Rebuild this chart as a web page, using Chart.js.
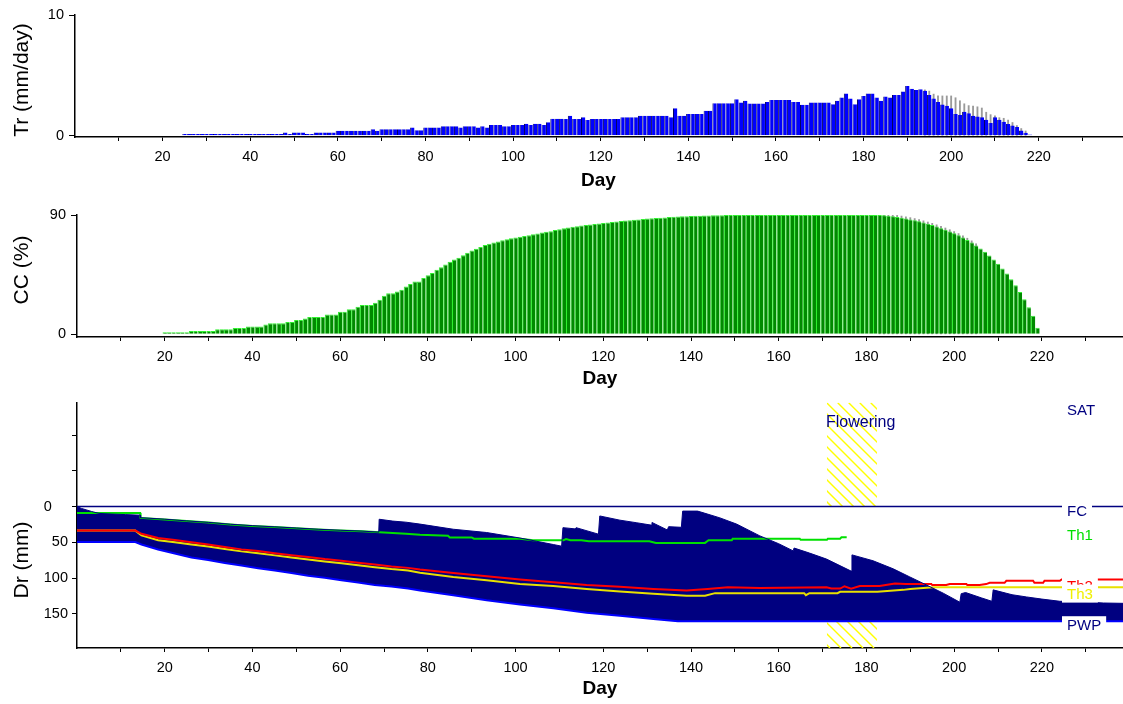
<!DOCTYPE html>
<html lang="en">
<head>
<meta charset="UTF-8">
<title>Tr, CC and Dr by day</title>
<script src="https://cdn.jsdelivr.net/npm/chart.js@4.4.0/dist/chart.umd.min.js"></script>
<style>
  body { margin: 0; background: #fff; }
  .wrap { position: relative; width: 1123px; height: 704px; overflow: hidden; }
  canvas { position: absolute; left: 0; }
</style>
</head>
<body>
<div class="wrap">
  <canvas id="trChart" width="1123" height="200" style="top:0"></canvas>
  <canvas id="ccChart" width="1123" height="200" style="top:200px"></canvas>
  <canvas id="drChart" width="1123" height="314" style="top:390px"></canvas>
</div>
<script>
// ---- data ----
const dayTicks = [10, 20, 30, 40, 50, 60, 70, 80, 90, 100, 110, 120, 130, 140, 150, 160, 170, 180, 190, 200, 210, 220, 230];
const trTicks = [0, 10];
const ccTicks = [0, 90];
const drTicks = [-100, -50, 0, 50, 100, 150];

// transpiration (mm/day), one bar per day from day 25
const trFirstDay = 25;
const trValues = [
  0.15, 0.15, 0.15, 0.15, 0.15, 0.15, 0.15, 0.15, 0.15, 0.15,
  0.15, 0.15, 0.15, 0.15, 0.15, 0.15, 0.15, 0.15, 0.15, 0.15,
  0.15, 0.15, 0.15, 0.27, 0.15, 0.27, 0.27, 0.27, 0.15, 0.15,
  0.27, 0.27, 0.27, 0.27, 0.27, 0.41, 0.41, 0.41, 0.41, 0.41,
  0.41, 0.41, 0.41, 0.55, 0.41, 0.55, 0.55, 0.55, 0.55, 0.55,
  0.55, 0.55, 0.68, 0.45, 0.45, 0.68, 0.68, 0.68, 0.68, 0.8,
  0.8, 0.8, 0.8, 0.68, 0.8, 0.8, 0.8, 0.68, 0.8, 0.68,
  0.9, 0.9, 0.9, 0.8, 0.8, 0.9, 0.9, 0.9, 1.0, 0.9,
  1.0, 1.0, 0.9, 1.12, 1.42, 1.42, 1.42, 1.39, 1.66, 1.39,
  1.39, 1.53, 1.3, 1.39, 1.39, 1.39, 1.39, 1.39, 1.39, 1.39,
  1.53, 1.53, 1.53, 1.53, 1.66, 1.66, 1.66, 1.66, 1.66, 1.66,
  1.66, 1.53, 2.27, 1.66, 1.66, 1.8, 1.8, 1.8, 1.8, 2.07,
  2.07, 2.7, 2.7, 2.7, 2.7, 2.7, 3.03, 2.76, 2.9, 2.68,
  2.68, 2.68, 2.68, 2.8, 2.96, 2.96, 2.96, 2.96, 2.96, 2.8,
  2.8, 2.56, 2.56, 2.76, 2.76, 2.76, 2.76, 2.76, 2.62, 2.9,
  3.17, 3.5, 3.09, 2.62, 3.03, 3.3, 3.5, 3.5, 3.17, 2.9,
  3.25, 3.17, 3.38, 3.38, 3.66, 4.13, 3.9, 3.8, 3.85, 3.72,
  3.38, 3.09, 2.8, 2.6, 2.49, 2.27, 1.8, 1.72, 2.0, 1.86,
  1.66, 1.6, 1.53, 1.33, 1.06, 1.53, 1.33, 1.17, 0.98, 0.85,
  0.72, 0.44, 0.25, 0.1
];
// grey marks above the bars at the end of the season
const trPotFirstDay = 194;
const trPotValues = [
  3.8, 3.7, 3.45, 3.3, 3.3, 3.3, 3.3, 3.15, 2.9, 2.65,
  2.5, 2.45, 2.4, 2.3, 1.95, 1.75, 1.66, 1.5, 1.45, 1.3,
  1.1, 0.85, 0.6, 0.4
];

// canopy cover (%), one bar per day from day 15
const ccFirstDay = 15;
const ccValues = [
  0.5, 0.5, 0.5, 0.5, 0.5, 1.5, 1.5, 1.5, 1.5, 1.5,
  1.5, 2.5, 2.5, 2.5, 2.5, 2.5, 2.5, 3.8, 3.8, 3.8,
  3.8, 4.8, 4.8, 4.8, 5.9, 5.9, 5.9, 5.9, 7.4, 8.4,
  8.4, 8.4, 8.4, 9.4, 9.4, 10.9, 10.9, 12, 13, 13,
  13, 13, 15, 15, 15, 17, 17, 19, 19, 20.8,
  22.1, 22.1, 22.1, 23.9, 26, 29.2, 31, 31, 32.3, 33.6,
  36.1, 37.9, 39.9, 39.9, 42.5, 44.5, 46.3, 48.8, 50.6, 52.6,
  54.7, 56.4, 57.7, 59.7, 61.5, 63.3, 64.6, 65.8, 67.4, 68.4,
  69.2, 70, 71, 71.7, 72.4, 73, 73.6, 74.2, 74.8, 75.5,
  76, 76.8, 77.3, 77.8, 78.6, 79.2, 80.1, 80.6, 81.1, 81.5,
  82, 82.4, 82.8, 83.2, 83.6, 84, 84.4, 84.8, 85.1, 85.5,
  85.8, 86.1, 86.4, 86.7, 87, 87.3, 87.5, 87.8, 88, 88.2,
  88.4, 88.6, 88.8, 89, 89.1, 89.3, 89.4, 89.5, 89.6, 89.7,
  89.8, 89.9, 89.9, 90, 90, 90, 90, 90, 90, 90,
  90, 90, 90, 90, 90, 90, 90, 90, 90, 90,
  90, 90, 90, 90, 90, 90, 90, 90, 90, 90,
  90, 90, 90, 90, 90, 90, 90, 90, 90, 89.8,
  89.5, 89, 88.5, 88, 87.3, 86.7, 86, 85.2, 84.3, 83.4,
  82.4, 81.3, 80.1, 78.9, 77.6, 76.2, 74.7, 73, 71.2, 69.2,
  67, 64.7, 62.2, 59.4, 56.4, 53.2, 49.6, 45.8, 41.6, 37,
  32, 26.5, 20.5, 14, 5
];
const ccPotFirstDay = 183;
const ccPotValues = [
  90.6, 90.6, 90.4, 90.1, 89.7, 89.2, 88.6, 88, 87.3, 86.5,
  85.6, 84.7, 83.7, 82.6, 81.4, 80.2, 78.9, 77.5, 76, 74.3,
  72.5, 70.5, 68.3
];

// root zone depletion (mm) and thresholds, [day, value]
const drPoints = [
  [0, 0], [1, 2.5], [3.3, 6.8], [5, 9.5], [8, 10.5], [11, 11.2], [14.4, 12], [14.5, 15.5],
  [20, 17.6], [25, 20], [30, 22.1], [35, 24.7], [40, 26.7], [45, 28.3], [50, 30], [55, 31.7],
  [60, 33.1], [65, 34.3], [68.8, 35.8], [68.9, 17.7], [72, 20.3], [75, 21.8], [78.2, 24.5],
  [85.8, 31.7], [93.4, 36.3], [101, 44], [108.6, 53.1], [110.5, 55.4], [110.8, 29.5],
  [113.6, 31.2], [113.8, 29.5], [118.9, 38.6], [119.2, 13.1], [123.8, 19], [127.5, 22.5],
  [130.9, 25.9], [131.1, 22.2], [134.6, 32.7], [134.9, 28.1], [137.8, 29], [138.1, 6.3],
  [141.5, 6.3], [143, 9], [146.6, 15.8], [150.4, 24.5], [155.7, 41], [160, 52], [163.3, 62],
  [163.5, 58], [167, 65], [170.9, 73.5], [176.5, 90.3], [176.7, 67.6], [181.5, 75.8],
  [186.1, 87.1], [189.9, 98.5], [193.7, 109.8], [197.5, 121.2], [201.3, 133.9], [201.6, 122],
  [202.6, 120.3], [206.3, 128], [208.6, 132.6], [208.9, 116.6], [213.2, 123.4], [216.5, 126.5],
  [220, 129.5], [224.1, 132.6], [230, 133.5], [234, 135], [239, 135.5]
];
const th1Points = [
  [0, 9], [14.4, 9], [14.5, 15.8], [20, 17.9], [25, 20.3], [30, 22.4], [35, 25], [40, 27],
  [45, 28.6], [50, 30.3], [55, 32], [60, 33.4], [65, 34.6], [70, 36.4], [75, 38], [78.2, 39.5],
  [84.6, 40.8], [85, 43.1], [90, 43.1], [90.5, 44.9], [101, 44.9], [104, 47.2], [110.9, 47.2],
  [111.5, 45.5], [112.5, 47.2], [115, 47.2], [116.7, 48.5], [130.5, 48.5], [132, 50.8],
  [143.2, 50.8], [144, 47.2], [149.3, 47.2], [149.5, 44.9], [164.8, 44.9], [165, 46.5],
  [171, 46.5], [171.2, 44.9], [174, 44.9], [174.3, 43], [175.5, 43]
];
const th2Points = [
  [0, 33.6], [13.3, 33.6], [14.7, 38.1], [18.5, 44], [22.3, 46.9], [26.1, 49.9], [29.9, 53],
  [33.7, 56.7], [37.5, 59.9], [41.3, 62.1], [45.1, 65.3], [48.9, 68.1], [52.7, 70.5],
  [56.5, 73.5], [60.3, 75.8], [64.1, 78.5], [67.9, 81.2], [71.7, 83.9], [75.5, 85.8],
  [78.2, 88], [85.8, 93], [93.4, 97.6], [101, 102.1], [108.6, 105.8], [116.2, 109.9],
  [123.8, 112.1], [131.4, 115.3], [139, 117.6], [143.8, 115.3], [148.4, 113], [155.7, 114],
  [170.9, 113], [172, 114.8], [174, 114.8], [175, 111.5], [176.5, 114.8], [178.5, 111.2],
  [183, 111.2], [186.5, 107.6], [189, 108.5], [194.8, 108.5], [195, 109.9], [198.2, 109.9],
  [199, 108.5], [202.8, 108.5], [203, 109.9], [205.8, 109.9], [207.3, 108.5], [208.1, 106.7],
  [211.5, 106.7], [211.9, 103.9], [218, 103.9], [218.3, 106.7], [220.3, 106.7], [220.6, 103.9],
  [224.1, 103.9], [224.5, 102.1], [239, 102.1]
];
const th3Points = [
  [0, 33.6], [13.3, 33.6], [14.7, 40.4], [18.5, 47], [22.3, 50], [26.1, 53], [29.9, 56],
  [33.7, 59.5], [37.5, 62.7], [41.3, 65.3], [45.1, 68.3], [48.9, 71.3], [52.7, 74],
  [56.5, 76.8], [60.3, 79.2], [64.1, 82], [67.9, 84.8], [71.7, 87.5], [75.5, 89.5],
  [78.2, 92.6], [85.8, 98.5], [93.4, 103], [101, 108.5], [108.6, 111.2], [116.2, 115.3],
  [123.8, 118.9], [131.4, 122.1], [139, 124.8], [143.2, 124.8], [145.5, 121.2], [165.8, 121.2],
  [166.2, 124], [167, 121.2], [173.4, 121.2], [174, 119.3], [182.5, 119.3], [184, 118.5],
  [188.4, 116.6], [190, 115.5], [195.2, 113], [239, 113]
];
const pwpPoints = [
  [0, 49.5], [13.3, 49.5], [14.7, 53], [18.5, 60], [22.3, 65.8], [26.1, 71.3], [29.9, 74.9],
  [33.7, 79], [37.5, 82.6], [41.3, 86.2], [45.1, 89.4], [48.9, 93], [52.7, 96.7], [56.5, 99.5],
  [60.3, 103], [64.1, 106.2], [67.9, 109.9], [71.7, 112], [75.5, 114.8], [78.2, 117.6],
  [85.8, 124], [93.4, 131.2], [101, 137.1], [108.6, 142.5], [116.2, 148.5], [123.8, 153],
  [131.4, 157.5], [137, 160.5], [239, 160.5]
];
const fcPoints = [[0, 0], [239, 0]];
const flowering = [171, 182.4];

// ---- helpers ----
const FONT = '"Liberation Sans", Arial, sans-serif';
Chart.defaults.font.family = FONT;
Chart.defaults.color = '#000';

const daily = (first, vals) => vals.map((v, i) => ({ x: first + i, y: v }));
const pairs = arr => arr.map(p => ({ x: p[0], y: p[1] }));

function dayAxis(max, height, titlePad) {
  return {
    type: 'linear', min: 0, max: max, offset: false,
    afterBuildTicks: s => { s.ticks = dayTicks.map(v => ({ value: v })); },
    afterFit: s => { s.height = height; },
    ticks: {
      autoSkip: false, maxRotation: 0, padding: 7, color: '#000',
      font: { size: 14.5 },
      callback: v => (v % 20 === 0 ? String(v) : '')
    },
    grid: { drawOnChartArea: false, drawTicks: true, tickLength: 4, tickColor: '#000', offset: false },
    border: { display: true, color: '#000', width: 1.5 },
    title: {
      display: true, text: 'Day', color: '#000',
      font: { size: 19, weight: 'bold' }, padding: { top: 0, bottom: titlePad }
    }
  };
}

function valueAxis(min, max, list, width, tickLen, pad, labelFn, reverse) {
  return {
    type: 'linear', min: min, max: max, reverse: !!reverse,
    afterBuildTicks: s => { s.ticks = list.map(v => ({ value: v })); },
    afterFit: s => { s.width = width; },
    ticks: { padding: pad, color: '#000', font: { size: 14.5 }, callback: labelFn },
    grid: { drawOnChartArea: false, drawTicks: true, tickLength: tickLen, tickColor: '#000' },
    border: { display: true, color: '#000', width: 1.5 }
  };
}

function yTitle(text, cx, cy) {
  return {
    id: 'yTitle',
    afterDraw(chart) {
      const ctx = chart.ctx;
      ctx.save();
      ctx.translate(cx, cy);
      ctx.rotate(-Math.PI / 2);
      ctx.font = '21px ' + FONT;
      ctx.fillStyle = '#000';
      ctx.textAlign = 'center';
      ctx.textBaseline = 'middle';
      ctx.fillText(text, 0, 0);
      ctx.restore();
    }
  };
}

const common = {
  responsive: false, animation: false, devicePixelRatio: 1, events: []
};
const quiet = { legend: { display: false }, tooltip: { enabled: false } };

// ---- Tr ----
new Chart(document.getElementById('trChart'), {
  type: 'bar',
  data: {
    datasets: [
      {
        data: daily(trFirstDay, trValues), grouped: false, inflateAmount: 0,
        backgroundColor: '#0000ff', borderColor: '#000060',
        borderWidth: { left: 1, top: 0, right: 0, bottom: 0 },
        barPercentage: 1, categoryPercentage: 1
      },
      {
        data: daily(trPotFirstDay, trPotValues), grouped: false,
        backgroundColor: '#9a9a9a', barThickness: 1.2
      }
    ]
  },
  options: {
    ...common,
    plugins: quiet,
    layout: { padding: { top: 15, right: 1, left: 0, bottom: 0 } },
    scales: {
      x: dayAxis(239, 63, 8),
      y: valueAxis(-0.1, 10, trTicks, 75, 6, 5, v => String(v))
    }
  },
  plugins: [yTitle('Tr (mm/day)', 22, 80)]
});

// ---- CC ----
new Chart(document.getElementById('ccChart'), {
  type: 'bar',
  data: {
    datasets: [
      {
        data: daily(ccFirstDay, ccValues), grouped: false, inflateAmount: 0,
        backgroundColor: '#008a00', borderColor: '#30f030',
        borderWidth: { left: 1, top: 1, right: 0, bottom: 0 },
        barPercentage: 1, categoryPercentage: 1
      },
      {
        data: daily(ccPotFirstDay, ccPotValues), grouped: false,
        backgroundColor: '#9a9a9a', barThickness: 1.2
      }
    ]
  },
  options: {
    ...common,
    plugins: quiet,
    layout: { padding: { top: 15, right: 0, left: 0, bottom: 0 } },
    scales: {
      x: dayAxis(238.5, 63, 10),
      y: valueAxis(-2, 90, ccTicks, 77, 6, 5, v => String(v))
    }
  },
  plugins: [yTitle('CC (%)', 22, 70)]
});

// ---- Dr ----
const pwpEnd = pwpPoints[pwpPoints.length - 1][1];

const floweringBand = {
  id: 'floweringBand',
  beforeDatasetsDraw(chart) {
    const { ctx, chartArea: a, scales: { x, y } } = chart;
    const x1 = x.getPixelForValue(flowering[0]);
    const x2 = x.getPixelForValue(flowering[1]);
    const bands = [[a.top, y.getPixelForValue(0)], [y.getPixelForValue(pwpEnd), a.bottom]];
    ctx.save();
    ctx.strokeStyle = '#ffff00';
    ctx.lineWidth = 1.4;
    bands.forEach(([t, b]) => {
      ctx.save();
      ctx.beginPath();
      ctx.rect(x1, t, x2 - x1, b - t);
      ctx.clip();
      ctx.beginPath();
      const step = 11;
      for (let c = Math.floor((x1 - a.bottom) / step) * step; c < x2 - a.top + step; c += step) {
        ctx.moveTo(c + t, t);
        ctx.lineTo(c + b, b);
      }
      ctx.stroke();
      ctx.restore();
    });
    ctx.restore();
  }
};

const lineLabels = {
  id: 'lineLabels',
  afterDatasetsDraw(chart) {
    const { ctx, chartArea: a, scales: { x, y } } = chart;
    const lx = a.right - 56;
    const y0 = y.getPixelForValue(0);
    ctx.save();
    ctx.font = '15px ' + FONT;
    ctx.textAlign = 'left';
    ctx.textBaseline = 'middle';
    const tag = (text, color, yy, bg) => {
      const w = ctx.measureText(text).width;
      if (bg) {
        ctx.fillStyle = '#fff';
        ctx.fillRect(lx - 5, yy - 10, w + 10, 18);
      }
      ctx.fillStyle = color;
      ctx.fillText(text, lx, yy);
    };
    tag('SAT', '#000080', a.top + 8, false);
    tag('FC', '#000080', y0 + 5, true);
    tag('Th1', '#00e000', y0 + 29, true);
    tag('Th2', '#ff0000', y0 + 80, true);
    tag('Th3', '#f0f000', y0 + 88, true);
    tag('PWP', '#000080', y.getPixelForValue(pwpEnd) + 5, true);
    ctx.font = '16px ' + FONT;
    ctx.fillStyle = '#000080';
    ctx.fillText('Flowering', x.getPixelForValue(flowering[0]) - 1, a.top + 20);
    ctx.restore();
  }
};

const lineStyle = { pointRadius: 0, tension: 0, fill: false };

new Chart(document.getElementById('drChart'), {
  type: 'line',
  data: {
    datasets: [
      { ...lineStyle, data: pairs(drPoints), borderColor: '#000080', borderWidth: 1,
        backgroundColor: '#000080', fill: { target: 4 } },
      { ...lineStyle, data: pairs(th1Points), borderColor: '#00e000', borderWidth: 2 },
      { ...lineStyle, data: pairs(th2Points), borderColor: '#ff0000', borderWidth: 2 },
      { ...lineStyle, data: pairs(th3Points), borderColor: '#e8e000', borderWidth: 2 },
      { ...lineStyle, data: pairs(pwpPoints), borderColor: '#0000ff', borderWidth: 2 },
      { ...lineStyle, data: pairs(fcPoints), borderColor: '#000080', borderWidth: 1.5 }
    ]
  },
  options: {
    ...common,
    plugins: { ...quiet, filler: { drawTime: 'beforeDatasetsDraw' } },
    layout: { padding: { top: 6, right: 0, left: 0, bottom: 0 } },
    scales: {
      x: dayAxis(238.5, 56, 4),
      y: valueAxis(-145.5, 198, drTicks, 77, 5, 4,
        v => (v === 0 ? '0    ' : (v > 0 ? String(v) : '')), true)
    }
  },
  plugins: [floweringBand, lineLabels, yTitle('Dr (mm)', 22, 170)]
});
</script>
</body>
</html>
